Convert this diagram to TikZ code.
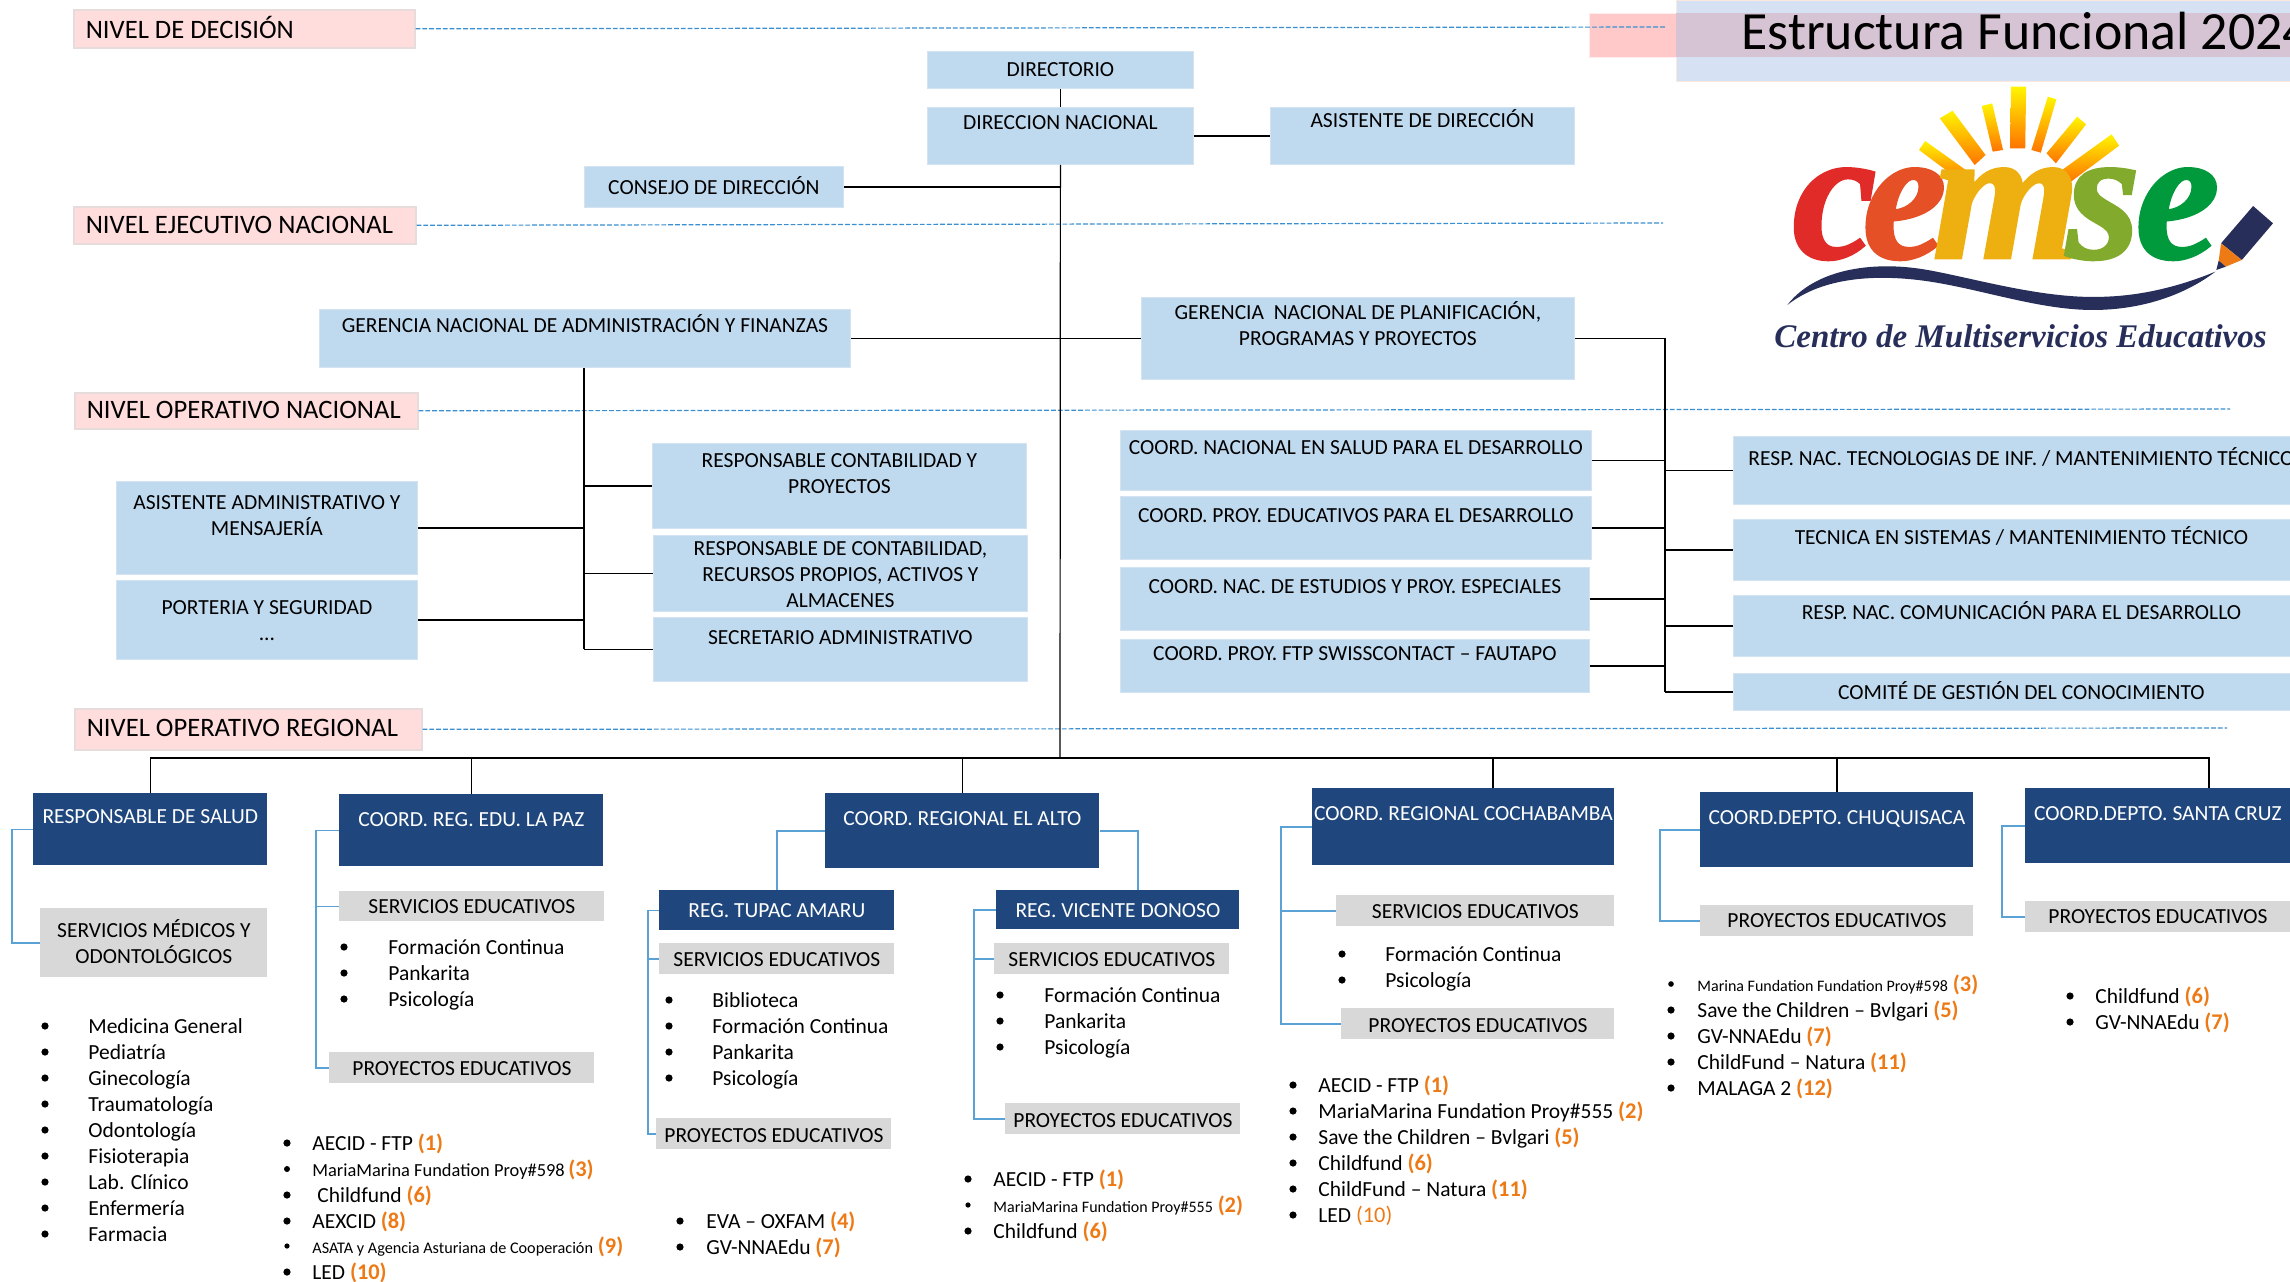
\documentclass[tikz,border=0pt]{standalone}
\usepackage{fontspec}
\setmainfont{Carlito}
\newfontfamily\logofont[BoldItalicFeatures={FakeBold=1.5}]{Liberation Serif}
\newfontfamily\logotag{Liberation Serif}
\usetikzlibrary{calc}
\definecolor{bluebox}{HTML}{BFD9EF}
\definecolor{bluebord}{HTML}{D3E3F2}
\definecolor{navybox}{HTML}{1F477D}
\definecolor{graybox}{HTML}{D8D8D8}
\definecolor{pinkbox}{HTML}{FFDDDD}
\definecolor{pinkbord}{HTML}{E6DCDC}
\definecolor{connblue}{HTML}{5AA2D6}
\definecolor{dashblue}{HTML}{3A8FD0}
\definecolor{numor}{HTML}{EE7A16}
\definecolor{logonavy}{HTML}{272E5A}
\definecolor{hdrblue}{HTML}{D6E1F3}
\definecolor{hdrbord}{HTML}{FAE8DE}
\definecolor{hdrpinkc}{HTML}{FFC9C9}
\definecolor{hdrmixc}{HTML}{D6C3D3}
\newcounter{lic}
\newcommand{\bxn}[9][\centering]{%
  \pgfmathsetmacro\bw{(#6-#4)*0.5}%
  \pgfmathsetmacro\bh{(#7-#5)*0.5}%
  \pgfmathsetmacro\bt{#8*0.5-10}%
  \node[#2,anchor=north west,minimum width=\bw pt,minimum height=\bh pt,inner sep=0pt] (#3) at (#4,#5)
    {\parbox[c][\bh pt][t]{\bw pt}{#1\vspace*{\bt pt}\rule{0pt}{10pt}#9}};}
\newcommand{\litem}[5][3.6pt]{%
  \stepcounter{lic}%
  \node[bulletdot,minimum size=#1] (b\thelic) at (#2,#4-7) {};
  \node[listtext] (t\thelic) at (#3,#4) {#5};}
\newcommand{\nmr}[1]{{\bfseries\fontsize{11.2}{13}\selectfont\color{numor}(#1)}}
\newcommand{\smf}[1]{\fontsize{#1}{10}\selectfont}
\tikzset{
  x=0.5pt,y=-0.5pt,
  blueb/.style={fill=bluebox,draw=bluebord,line width=0.4pt,font=\fontsize{10.75}{13}\selectfont},
  navyb/.style={fill=navybox,text=white,font=\fontsize{10.75}{13}\selectfont},
  grayb/.style={fill=graybox,font=\fontsize{10.75}{13}\selectfont},
  levelb/.style={fill=pinkbox,draw=pinkbord,line width=0.8pt,font=\fontsize{13.3}{15}\selectfont},
  bulletdot/.style={circle,fill=black,inner sep=0pt},
  listtext/.style={anchor=base west,inner sep=0pt,font=\fontsize{10.75}{13}\selectfont},
  trunk/.style={draw=black,line width=0.6pt},
  bracket/.style={draw=connblue,line width=0.9pt},
  leveldash/.style={draw=dashblue,line width=0.6pt,dash pattern=on 2.4pt off 1pt},
  ray/.style={top color=yellow!92!orange,bottom color=orange!85!red!95!yellow},
}
\begin{document}
\begin{tikzpicture}
\useasboundingbox (0,0) rectangle (2290,1281);
% header
\fill[white] (0,0) rectangle (2290,1281);
\node[minimum width=43.5pt,minimum height=22pt,inner sep=0pt,anchor=north west,fill=hdrpinkc,draw=red!8!white,line width=0.5pt] (hdrpink) at (1589,13) {};
\node[minimum width=307pt,minimum height=40.5pt,inner sep=0pt,anchor=north west,fill=hdrblue,draw=hdrbord,line width=0.5pt] (hdrblu) at (1676,0) {};
\node[minimum width=307pt,minimum height=22pt,inner sep=0pt,anchor=north west,fill=hdrmixc] (hdrmix) at (1676,13) {};
\node[anchor=base west,inner sep=0pt,font=\fontsize{26.9}{30}\selectfont] (title) at (1741,49) {Estructura Funcional 2024};
% logo
\begin{scope}[shift={(1550,0)},xscale=0.4719,yscale=0.3333]
  \shade[ray] (977,260)--(1009,260)--(1007,445)--(975,445)--cycle;
  \shade[ray] (915,318)--(937,310)--(960,450)--(938,455)--cycle;
  \shade[ray] (1055,290)--(1073,298)--(1040,458)--(1020,450)--cycle;
  \shade[ray] (826,355)--(853,332)--(923,465)--(900,495)--cycle;
  \shade[ray] (1117,350)--(1136,373)--(1072,490)--(1052,460)--cycle;
  \shade[ray] (782,450)--(795,423)--(888,517)--(870,543)--cycle;
  \shade[ray] (1190,403)--(1206,437)--(1103,546)--(1085,510)--cycle;
  \fill[logonavy] (503,915) .. controls (560,810) and (680,780) .. (800,810)
     .. controls (900,835) and (1050,900) .. (1180,890)
     .. controls (1270,885) and (1350,850) .. (1410,815)
     .. controls (1350,880) and (1260,930) .. (1150,930)
     .. controls (1030,930) and (900,860) .. (780,840)
     .. controls (670,822) and (570,840) .. (503,915) -- cycle;
  \fill[logonavy] (1490,618)--(1532,670)--(1466,780)--(1422,730)--cycle;
  \fill[numor] (1422,730)--(1466,780)--(1432,800)--(1417,782)--cycle;
  \fill[logonavy] (1417,782)--(1432,800)--(1412,810)--cycle;
\end{scope}
\tikzset{logoletter/.style={anchor=base west,inner sep=0pt,font=\logofont\bfseries\itshape\fontsize{95}{95}\selectfont}}
\node[logoletter,text={rgb,255:red,225;green,43;blue,40}] (lc1) at (1792,258) {c};
\node[logoletter,text={rgb,255:red,229;green,80;blue,38}] (le1) at (1862,258) {e};
\node[logoletter,text={rgb,255:red,238;green,176;blue,16}] (lm) at (1932,258) {m};
\node[logoletter,text={rgb,255:red,130;green,170;blue,45}] (ls) at (2066,258) {s};
\node[logoletter,text={rgb,255:red,0;green,154;blue,61}] (le2) at (2135,258) {e};
\node[anchor=base west,inner sep=0pt,text=logonavy,font=\logotag\bfseries\itshape\fontsize{16.5}{18}\selectfont] (ltag) at (1774,347) {Centro de Multiservicios Educativos};
% levels
\bxn[\raggedright\leftskip=6pt]{levelb}{lvA}{73}{9}{414}{47}{26}{NIVEL DE DECISIÓN}
\bxn[\raggedright\leftskip=6pt]{levelb}{lvB}{73}{206}{415}{243}{27}{NIVEL EJECUTIVO NACIONAL}
\bxn[\raggedright\leftskip=6pt]{levelb}{lvC}{74}{392}{417}{428}{26}{NIVEL OPERATIVO NACIONAL}
\bxn[\raggedright\leftskip=6pt]{levelb}{lvD}{74}{708}{421}{749}{28}{NIVEL OPERATIVO REGIONAL}
\coordinate (endA) at (1666,27);
\coordinate (endB) at (1663,223);
\coordinate (endC) at (2230,409);
\coordinate (endD) at (2227,728);
\draw[leveldash] (lvA.east) -- (endA);
\draw[leveldash] (lvB.east) -- (endB);
\draw[leveldash] (lvC.east) -- (endC);
\draw[leveldash] (lvD.east) -- (endD);
% top boxes
\bxn{blueb}{dir}{927}{51}{1193}{88}{25}{DIRECTORIO}
\bxn{blueb}{dirn}{927}{107}{1193}{164}{22}{DIRECCION NACIONAL}
\bxn{blueb}{asdir}{1270}{107}{1574}{164}{20}{ASISTENTE DE DIRECCIÓN}
\bxn{blueb}{cons}{584}{166}{843}{207}{28}{CONSEJO DE DIRECCIÓN}
\bxn{blueb}{gadm}{319}{309}{850}{367}{23}{GERENCIA NACIONAL DE ADMINISTRACIÓN Y FINANZAS}
\bxn{blueb}{gplan}{1141}{297}{1574}{379}{22}{GERENCIA\ \ NACIONAL DE PLANIFICACIÓN,\\ PROGRAMAS Y PROYECTOS}
\bxn{blueb}{rcp}{652}{443}{1026}{528}{24}{RESPONSABLE CONTABILIDAD Y\\ PROYECTOS}
\bxn{blueb}{asad}{116}{481}{417}{574}{28}{ASISTENTE ADMINISTRATIVO Y\\ MENSAJERÍA}
\bxn{blueb}{port}{116}{580}{417}{659}{34}{PORTERIA Y SEGURIDAD\\ ...}
\bxn{blueb}{rdc}{653}{535}{1027}{611}{20}{RESPONSABLE DE CONTABILIDAD,\\ RECURSOS PROPIOS, ACTIVOS Y\\ ALMACENES}
\bxn{blueb}{sec}{653}{617}{1027}{681}{27}{SECRETARIO ADMINISTRATIVO}
\bxn{blueb}{csal}{1120}{430}{1591}{490}{24}{COORD. NACIONAL EN SALUD PARA EL DESARROLLO}
\bxn{blueb}{cedu}{1120}{496}{1591}{559}{26}{COORD. PROY. EDUCATIVOS PARA EL DESARROLLO}
\bxn{blueb}{cest}{1120}{567}{1589}{630}{26}{COORD. NAC. DE ESTUDIOS Y PROY. ESPECIALES}
\bxn{blueb}{cftp}{1120}{639}{1589}{692}{21}{COORD. PROY. FTP SWISSCONTACT -- FAUTAPO}
\bxn{blueb}{rtec}{1733}{436}{2309}{504}{29}{RESP. NAC. TECNOLOGIAS DE INF. / MANTENIMIENTO TÉCNICO}
\bxn{blueb}{tsis}{1733}{519}{2309}{580}{25}{TECNICA EN SISTEMAS / MANTENIMIENTO TÉCNICO}
\bxn{blueb}{rcom}{1733}{595}{2309}{656}{24}{RESP. NAC. COMUNICACIÓN PARA EL DESARROLLO}
\bxn{blueb}{comi}{1733}{673}{2309}{710}{26}{COMITÉ DE GESTIÓN DEL CONOCIMIENTO}
% regional boxes
\bxn{navyb}{rsal}{33}{793}{267}{865}{30}{RESPONSABLE DE SALUD}
\bxn{navyb}{clpz}{339}{794}{603}{866}{32}{COORD. REG. EDU. LA PAZ}
\bxn{navyb}{calt}{825}{793}{1099}{868}{32}{COORD. REGIONAL EL ALTO}
\bxn{navyb}{ccba}{1312}{788}{1614}{865}{32}{COORD. REGIONAL COCHABAMBA}
\bxn{navyb}{cchu}{1700}{792}{1973}{867}{32}{COORD.DEPTO. CHUQUISACA}
\bxn{navyb}{cscz}{2025}{788}{2290}{863}{32}{COORD.DEPTO. SANTA CRUZ}
\bxn{navyb}{tupa}{659}{890}{894}{930}{27}{REG. TUPAC AMARU}
\bxn{navyb}{vice}{996}{890}{1239}{929}{27}{REG. VICENTE DONOSO}
\bxn{grayb}{smed}{40}{908}{267}{977}{29}{SERVICIOS MÉDICOS Y\\ ODONTOLÓGICOS}
\bxn{grayb}{lser}{339}{891}{604}{921}{22}{SERVICIOS EDUCATIVOS}
\bxn{grayb}{lpro}{329}{1052}{594}{1083}{23}{PROYECTOS EDUCATIVOS}
\bxn{grayb}{tser}{659}{943}{894}{974}{23}{SERVICIOS EDUCATIVOS}
\bxn{grayb}{tpro}{656}{1118}{891}{1149}{24}{PROYECTOS EDUCATIVOS}
\bxn{grayb}{vser}{994}{943}{1229}{974}{23}{SERVICIOS EDUCATIVOS}
\bxn{grayb}{vpro}{1005}{1103}{1240}{1134}{24}{PROYECTOS EDUCATIVOS}
\bxn{grayb}{cser}{1336}{895}{1614}{926}{23}{SERVICIOS EDUCATIVOS}
\bxn{grayb}{cpro}{1341}{1008}{1614}{1039}{24}{PROYECTOS EDUCATIVOS}
\bxn{grayb}{hpro}{1700}{905}{1973}{936}{22}{PROYECTOS EDUCATIVOS}
\bxn{grayb}{spro}{2025}{901}{2290}{932}{22}{PROYECTOS EDUCATIVOS}
% black connectors
\coordinate (bus) at (1060,758);
\coordinate (admv) at (584,649);
\coordinate (planv) at (1665,692);
\coordinate (ccbatop) at (1493,788);
\coordinate (csctop) at (2209,788);
\draw[trunk] (dir.south) -- (dirn.north);
\draw[trunk] (dirn.south) -- (bus);
\draw[trunk] (dirn.east) -- (asdir.west);
\draw[trunk] (cons.east) -- (cons.east -| bus);
\draw[trunk] (gadm.east) -- (gplan.west);
\draw[trunk] (gadm.south -| admv) -- (admv);
\draw[trunk] (asad.east) -- (asad.east -| admv);
\draw[trunk] (port.east) -- (port.east -| admv);
\draw[trunk] (rcp.west) -- (rcp.west -| admv);
\draw[trunk] (rdc.west) -- (rdc.west -| admv);
\draw[trunk] (sec.west) -- (sec.west -| admv);
\draw[trunk,line width=0.9pt] (gplan.east) -- (gplan.east -| planv) -- (planv);
\draw[trunk] (csal.east) -- (csal.east -| planv);
\draw[trunk] (cedu.east) -- (cedu.east -| planv);
\draw[trunk] (cest.east) -- (cest.east -| planv);
\draw[trunk] (cftp.east) -- (cftp.east -| planv);
\draw[trunk] (rtec.west) -- (rtec.west -| planv);
\draw[trunk] (tsis.west) -- (tsis.west -| planv);
\draw[trunk] (rcom.west) -- (rcom.west -| planv);
\draw[trunk] (comi.west) -- (comi.west -| planv);
\draw[trunk] (rsal.north) -- (rsal.north |- bus) -- (bus -| csctop) -- (csctop);
\draw[trunk] (clpz.north) -- (clpz.north |- bus);
\draw[trunk] (calt.north) -- (calt.north |- bus);
\draw[trunk] (ccbatop) -- (ccbatop |- bus);
\draw[trunk] (cchu.north) -- (cchu.north |- bus);
% blue brackets
\coordinate (brS) at (12,0);
\coordinate (brL) at (316,0);
\coordinate (brT) at (648,0);
\coordinate (brV) at (974,0);
\coordinate (brC) at (1281,0);
\coordinate (brH) at (1660,0);
\coordinate (brZ) at (2002,0);
\coordinate (altT) at (777,0);
\coordinate (altV) at (1138,0);
\draw[bracket] (rsal.west) -- (rsal.west -| brS) -- (smed.west -| brS) -- (smed.west);
\draw[bracket] (clpz.west) -- (clpz.west -| brL) -- (lpro.west -| brL) -- (lpro.west);
\draw[bracket] (lser.west) -- (lser.west -| brL);
\draw[bracket] (calt.west) -- (calt.west -| altT) -- (tupa.north -| altT);
\draw[bracket] (calt.east) -- (calt.east -| altV) -- (vice.north -| altV);
\draw[bracket] (tupa.west) -- (tupa.west -| brT) -- (tpro.west -| brT) -- (tpro.west);
\draw[bracket] (tser.west) -- (tser.west -| brT);
\draw[bracket] (vice.west) -- (vice.west -| brV) -- (vpro.west -| brV) -- (vpro.west);
\draw[bracket] (vser.west) -- (vser.west -| brV);
\draw[bracket] (ccba.west) -- (ccba.west -| brC) -- (cpro.west -| brC) -- (cpro.west);
\draw[bracket] (cser.west) -- (cser.west -| brC);
\draw[bracket] (cchu.west) -- (cchu.west -| brH) -- (hpro.west -| brH) -- (hpro.west);
\draw[bracket] (cscz.west) -- (cscz.west -| brZ) -- (spro.west -| brZ) -- (spro.west);
% lists
\litem{45}{88}{1033}{Medicina General}
\litem{45}{88}{1059}{Pediatría}
\litem{45}{88}{1085}{Ginecología}
\litem{45}{88}{1111}{Traumatología}
\litem{45}{88}{1137}{Odontología}
\litem{45}{88}{1163}{Fisioterapia}
\litem{45}{88}{1189}{Lab. Clínico}
\litem{45}{88}{1215}{Enfermería}
\litem{45}{88}{1241}{Farmacia}
\litem{344}{388}{954}{Formación Continua}
\litem{344}{388}{980}{Pankarita}
\litem{344}{388}{1006}{Psicología}
\litem{287}{312}{1150}{AECID - FTP \nmr{1}}
\litem[3pt]{287}{312}{1176}{{\smf{9.2}MariaMarina Fundation Proy\#598}\,\nmr{3}}
\litem{287}{317}{1202}{Childfund \nmr{6}}
\litem{287}{312}{1228}{AEXCID \nmr{8}}
\litem[2.6pt]{287}{312}{1253}{{\smf{8.1}ASATA y Agencia Asturiana de Cooperación} \nmr{9}}
\litem{287}{312}{1279}{LED \nmr{10}}
\litem{669}{712}{1007}{Biblioteca}
\litem{669}{712}{1033}{Formación Continua}
\litem{669}{712}{1059}{Pankarita}
\litem{669}{712}{1085}{Psicología}
\litem{680}{706}{1228}{EVA -- OXFAM \nmr{4}}
\litem{680}{706}{1254}{GV-NNAEdu \nmr{7}}
\litem{1000}{1044}{1002}{Formación Continua}
\litem{1000}{1044}{1028}{Pankarita}
\litem{1000}{1044}{1054}{Psicología}
\litem{968}{993}{1186}{AECID - FTP \nmr{1}}
\litem[2.6pt]{968}{993}{1212}{{\smf{8}MariaMarina Fundation Proy\#555} \nmr{2}}
\litem{968}{993}{1238}{Childfund \nmr{6}}
\litem{1342}{1385}{961}{Formación Continua}
\litem{1342}{1385}{987}{Psicología}
\litem{1293}{1318}{1092}{AECID - FTP \nmr{1}}
\litem{1293}{1318}{1118}{MariaMarina Fundation Proy\#555 \nmr{2}}
\litem{1293}{1318}{1144}{Save the Children -- Bvlgari \nmr{5}}
\litem{1293}{1318}{1170}{Childfund \nmr{6}}
\litem{1293}{1318}{1196}{ChildFund -- Natura \nmr{11}}
\litem{1293}{1318}{1222}{LED {\fontsize{11.2}{13}\selectfont\color{numor}(10)}}
\litem[2.8pt]{1671}{1697}{991}{{\smf{8}Marina Fundation Fundation Proy\#598} \nmr{3}}
\litem{1671}{1697}{1017}{Save the Children -- Bvlgari \nmr{5}}
\litem{1671}{1697}{1043}{GV-NNAEdu \nmr{7}}
\litem{1671}{1697}{1069}{ChildFund -- Natura \nmr{11}}
\litem{1671}{1697}{1095}{MALAGA 2 \nmr{12}}
\litem{2070}{2095}{1003}{Childfund \nmr{6}}
\litem{2070}{2095}{1029}{GV-NNAEdu \nmr{7}}
\end{tikzpicture}
\end{document}
